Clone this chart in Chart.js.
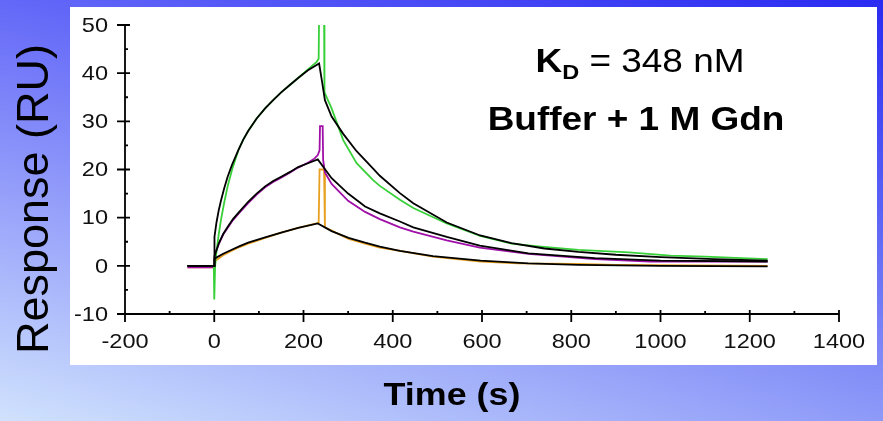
<!DOCTYPE html>
<html>
<head>
<meta charset="utf-8">
<script src="https://cdn.jsdelivr.net/npm/chart.js@4.4.1/dist/chart.umd.min.js"></script>
<style>
  html, body { margin: 0; padding: 0; }
  #wrap { width: 883px; height: 421px; }
</style>
</head>
<body>
<div id="wrap"><canvas id="sprChart" width="883" height="421"></canvas></div>
<script>
// Sensorgrams (RU vs s) with their fitted 1:1 curves
const greenTime = [-60, -1, 0, 2, 5, 10, 15, 22, 30, 40, 54, 65, 76, 95, 114, 132, 150, 170, 188, 210, 229, 234, 235, 246, 247, 263, 289, 319, 356, 371, 416, 446, 521, 596, 666, 720, 816, 930, 1022, 1100, 1182, 1240];
const greenResp = [0, 0, -7, 0, 3, 6.5, 9.5, 13, 16.5, 20, 24, 26.2, 28, 30.6, 32.7, 34.4, 36, 37.6, 39, 40.8, 42.3, 43, 53, 53, 36, 32.7, 26.1, 21.3, 17.8, 16.6, 13.7, 12, 8.8, 6.2, 4.6, 4.1, 3.3, 2.8, 2.1, 1.9, 1.6, 1.4];
const greenFitTime = [-60, 0, 0.5, 5, 10, 15, 22, 30, 40, 54, 65, 76, 95, 114, 132, 150, 170, 188, 210, 235, 242, 248, 263, 289, 319, 356, 371, 416, 446, 521, 596, 666, 740, 816, 900, 1000, 1120, 1240];
const greenFitResp = [0, 0, 6, 9, 11.5, 13.5, 16, 18.5, 21, 24, 26.2, 28, 30.6, 32.7, 34.4, 36, 37.6, 39, 40.6, 42, 38, 34.4, 31, 27.4, 23.8, 20.2, 18.7, 15.1, 13, 9, 6.3, 4.7, 3.6, 2.9, 2.3, 1.8, 1.4, 1.1];

const purpleTime = [-60, 0, 2, 10, 20, 31, 42, 54, 76, 95, 114, 132, 150, 170, 188, 210, 225, 232, 236, 237, 243, 244, 248, 263, 300, 338, 371, 416, 446, 521, 595, 704, 853, 977, 1240];
const purpleResp = [-0.3, -0.3, 2.5, 4.5, 6.5, 8, 9.5, 10.8, 13, 14.8, 16.3, 17.4, 18.3, 19.4, 20.4, 21.4, 22.3, 23, 24, 29, 29, 22, 19.4, 17, 13.5, 11.2, 9.7, 8, 7.1, 5.3, 3.8, 2.5, 1.4, 0.9, 0.9];
const purpleFitTime = [-60, 0, 0.5, 10, 20, 31, 42, 54, 76, 95, 114, 132, 150, 170, 188, 210, 232, 263, 300, 338, 371, 416, 446, 521, 595, 704, 853, 1000, 1240];
const purpleFitResp = [0, 0, 2, 4.6, 6.6, 8.2, 9.7, 11, 13.3, 15, 16.5, 17.6, 18.5, 19.5, 20.5, 21.3, 22.1, 18.2, 15, 12.3, 10.9, 9.2, 8, 6, 4.2, 2.6, 1.6, 1.1, 0.9];

const orangeTime = [-60, 0, 2, 20, 38, 57, 76, 95, 114, 150, 188, 229, 234, 236, 246, 248, 263, 301, 338, 371, 416, 490, 597, 680, 816, 900, 1240];
const orangeResp = [-0.3, -0.3, 1, 2.2, 3.1, 3.9, 4.6, 5.2, 5.8, 6.9, 7.9, 8.8, 9, 20, 20, 8, 7.3, 5.6, 4.6, 3.8, 3.1, 1.9, 0.9, 0.5, 0.4, 0.2, 0];
const orangeFitTime = [-60, 0, 0.5, 20, 38, 57, 76, 114, 150, 188, 232, 263, 301, 338, 371, 416, 490, 597, 704, 816, 1000, 1240];
const orangeFitResp = [0, 0, 1.5, 2.5, 3.3, 4.1, 4.8, 5.9, 6.9, 7.9, 8.8, 7.2, 5.8, 4.8, 4, 3.1, 2, 1.1, 0.5, 0.2, 0, -0.1];

const xTicks = [-200, 0, 200, 400, 600, 800, 1000, 1200, 1400];
const yTicks = [-10, 0, 10, 20, 30, 40, 50];
const xMinor = [-100, 100, 300, 500, 700, 900, 1100, 1300];
const yMinor = [-5, 5, 15, 25, 35, 45];

const FONT = '"Liberation Sans", Arial, sans-serif';
const STRETCH = 1.12;

function toPoints(ts, vs) {
  return ts.map((t, i) => ({ x: t, y: vs[i] }));
}

function stretchText(ctx, text, x, y, sx, align) {
  ctx.save();
  ctx.translate(x, y);
  ctx.scale(sx, 1);
  ctx.textAlign = align;
  ctx.fillText(text, 0, 0);
  ctx.restore();
}

function mix(a, b, f) {
  return a.map((v, i) => Math.round(v + (b[i] - v) * f));
}

// blue slide backdrop and the white panel behind the plot
const backdrop = {
  id: 'backdrop',
  beforeDraw(chart) {
    const ctx = chart.ctx;
    const w = chart.width, h = chart.height;
    const tl = [100, 104, 248], tr = [42, 42, 242];
    const bl = [208, 226, 253], br = [142, 154, 248];
    ctx.save();
    for (let y = 0; y < h; y++) {
      const f = y / (h - 1);
      const l = mix(tl, bl, f), r = mix(tr, br, f);
      const g = ctx.createLinearGradient(0, 0, w, 0);
      g.addColorStop(0, `rgb(${l})`);
      g.addColorStop(1, `rgb(${r})`);
      ctx.fillStyle = g;
      ctx.fillRect(0, y, w, 1);
    }
    ctx.fillStyle = '#ffffff';
    ctx.fillRect(70, 7, 807, 358);
    ctx.restore();
  }
};

// axis lines, tick marks, labels and the annotation
const frame = {
  id: 'frame',
  afterDraw(chart) {
    const ctx = chart.ctx;
    const xs = chart.scales.x, ys = chart.scales.y;
    const x0 = xs.getPixelForValue(-200);
    const x1 = xs.getPixelForValue(1400);
    const yTop = ys.getPixelForValue(50);
    const yBot = ys.getPixelForValue(-10);
    ctx.save();
    ctx.strokeStyle = '#000';
    ctx.lineWidth = 1.8;
    ctx.beginPath();
    ctx.moveTo(x0, yTop); ctx.lineTo(x0, yBot);
    ctx.moveTo(x0, yBot); ctx.lineTo(x1, yBot);
    yTicks.forEach(v => {
      const p = ys.getPixelForValue(v);
      ctx.moveTo(x0 - 8, p); ctx.lineTo(x0 + 5, p);
    });
    xTicks.forEach(v => {
      const p = xs.getPixelForValue(v);
      ctx.moveTo(p, yBot - 4); ctx.lineTo(p, yBot + 8);
    });
    yMinor.forEach(v => {
      const p = ys.getPixelForValue(v);
      ctx.moveTo(x0, p); ctx.lineTo(x0 + 3, p);
    });
    xMinor.forEach(v => {
      const p = xs.getPixelForValue(v);
      ctx.moveTo(p, yBot); ctx.lineTo(p, yBot - 3);
    });
    ctx.stroke();

    ctx.fillStyle = '#111';
    ctx.font = `21px ${FONT}`;
    ctx.textBaseline = 'middle';
    yTicks.forEach(v => {
      stretchText(ctx, String(v), x0 - 17, ys.getPixelForValue(v) + 1, STRETCH, 'right');
    });
    xTicks.forEach(v => {
      stretchText(ctx, String(v), xs.getPixelForValue(v), yBot + 28, STRETCH, 'center');
    });

    // axis titles
    ctx.fillStyle = '#000';
    ctx.font = `bold 32px ${FONT}`;
    ctx.textBaseline = 'alphabetic';
    stretchText(ctx, 'Time (s)', 452, 405, STRETCH, 'center');

    ctx.save();
    ctx.translate(36, 199);
    ctx.rotate(-Math.PI / 2);
    ctx.font = `45px ${FONT}`;
    ctx.textAlign = 'center';
    ctx.textBaseline = 'middle';
    ctx.fillText('Response (RU)', 0, 0);
    ctx.restore();

    // K_D line with subscript
    const bigBold = `bold 33px ${FONT}`, subBold = `bold 21px ${FONT}`, big = `33px ${FONT}`;
    ctx.font = bigBold; const wK = ctx.measureText('K').width;
    ctx.font = subBold; const wD = ctx.measureText('D').width;
    ctx.font = big; const wRest = ctx.measureText(' = 348 nM').width;
    const total = (wK + wD + wRest) * STRETCH;
    let cx = 640 - total / 2;
    ctx.textBaseline = 'alphabetic';
    ctx.font = bigBold; stretchText(ctx, 'K', cx, 72, STRETCH, 'left'); cx += wK * STRETCH;
    ctx.font = subBold; stretchText(ctx, 'D', cx, 79, STRETCH, 'left'); cx += wD * STRETCH;
    ctx.font = big; stretchText(ctx, ' = 348 nM', cx, 72, STRETCH, 'left');

    ctx.font = bigBold;
    stretchText(ctx, 'Buffer + 1 M Gdn', 636, 130, STRETCH, 'center');
    ctx.restore();
  }
};

function series(ts, vs, color, order) {
  return {
    data: toPoints(ts, vs),
    borderColor: color,
    borderWidth: 1.8,
    pointRadius: 0,
    tension: 0,
    fill: false,
    order: order
  };
}

new Chart(document.getElementById('sprChart'), {
  type: 'line',
  data: {
    datasets: [
      series(greenFitTime, greenFitResp, '#000000', 0),
      series(purpleFitTime, purpleFitResp, '#000000', 0),
      series(orangeFitTime, orangeFitResp, '#000000', 0),
      series(greenTime, greenResp, '#38d038', 1),
      series(purpleTime, purpleResp, '#a010a8', 1),
      series(orangeTime, orangeResp, '#e8a020', 1)
    ]
  },
  options: {
    responsive: false,
    devicePixelRatio: 1,
    animation: false,
    layout: { padding: { left: 125, top: 25, right: 44, bottom: 107 } },
    scales: {
      x: { type: 'linear', min: -200, max: 1400, display: false },
      y: { type: 'linear', min: -10, max: 50, display: false }
    },
    plugins: {
      legend: { display: false },
      tooltip: { enabled: false }
    }
  },
  plugins: [backdrop, frame]
});
</script>
</body>
</html>
